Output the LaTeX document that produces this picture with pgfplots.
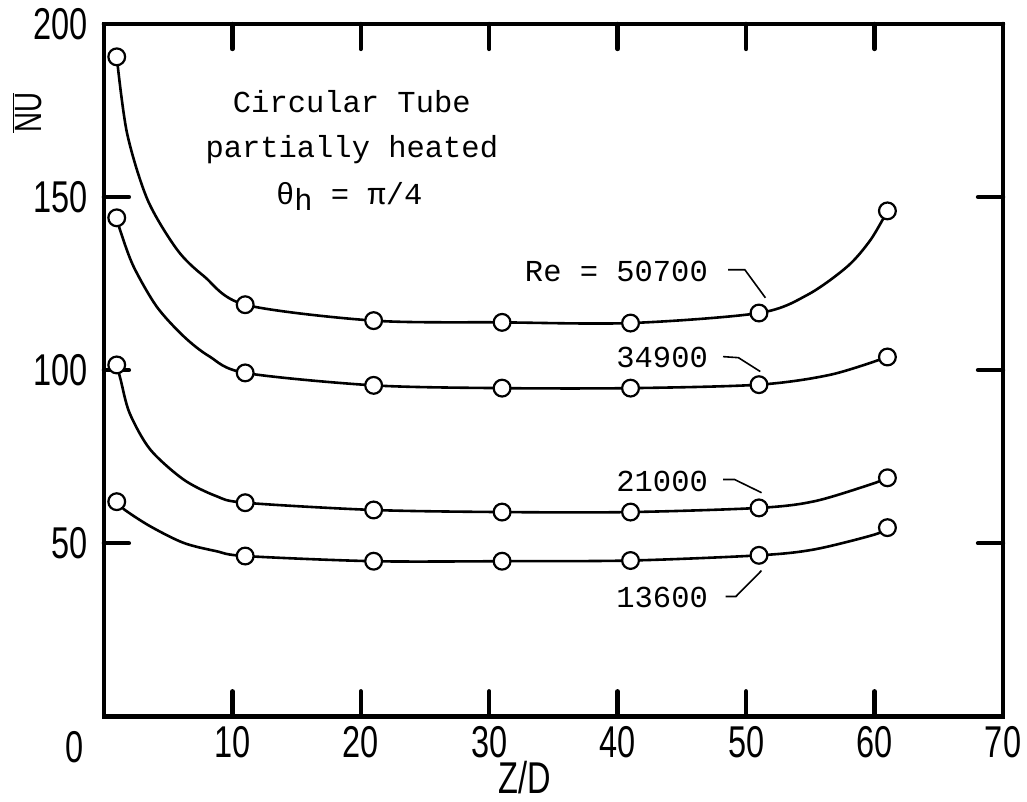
\documentclass[border=0pt]{standalone}
\usepackage{fontspec}
\usepackage{pgfplots}
\pgfplotsset{compat=1.18}
\newfontfamily\tickfont{Liberation Sans}[FakeStretch=0.73]
\newfontfamily\twfont{Liberation Mono}
\begin{document}
\begin{tikzpicture}
\useasboundingbox (-52pt,-42.5pt) rectangle (462pt,358.5pt);
\begin{axis}[
  scale only axis, width=450pt, height=346.5pt,
  at={(0,0)}, anchor=south west,
  xmin=0, xmax=70, ymin=0, ymax=200,
  axis line style={line width=2.4pt},
  xtick={10,20,...,70}, ytick={50,100,150,200},
  tick align=inside, tick pos=both,
  major tick length=12.5pt,
  every tick/.style={line width=2.2pt, line cap=round, black},
  /pgf/number format/assume math mode=true,
  tick label style={font=\tickfont\fontsize{22.3}{24}\selectfont},
  xticklabel style={inner sep=0pt, yshift=-5pt, anchor=north},
  yticklabel style={inner sep=0pt, xshift=-8pt, anchor=east},
  clip=false,
]
% Re = 50700
\addplot[black, line width=1.3pt, smooth, tension=0.5] coordinates {
 (1,190.5) (1.8,168.5) (3.4,149.2) (5.7,134.8) (7.8,127.1) (11,118.9)
 (21,114.3) (31,113.8) (41,113.6) (51,116.5) (54.8,121.8) (57.9,130) (59.7,137.7) (61,146)};
\addplot[only marks, mark=*, mark size=4.2pt, mark options={fill=white, draw=black, line width=1.1pt}] coordinates {
 (1,190.5) (11,118.9) (21,114.3) (31,113.8) (41,113.6) (51,116.5) (61,146)};
% Re = 34900
\addplot[black, line width=1.3pt, smooth, tension=0.5] coordinates {
 (1,144) (1.3,140) (2.3,130) (4.1,118.4) (6.2,109.8) (8.2,104) (11,99.2)
 (21,95.6) (31,94.8) (41,94.8) (51,95.8) (56.6,98.7) (61,103.8)};
\addplot[only marks, mark=*, mark size=4.2pt, mark options={fill=white, draw=black, line width=1.1pt}] coordinates {
 (1,144) (11,99.2) (21,95.6) (31,94.8) (41,94.8) (51,95.8) (61,103.8)};
% Re = 21000
\addplot[black, line width=1.3pt, smooth, tension=0.5] coordinates {
 (1,101.5) (1.3,97.3) (2,87.6) (3.6,77.1) (6.2,68.4) (8.75,63.6) (11,61.7)
 (21,59.6) (31,59.0) (41,59.0) (51,60.2) (55.3,62.1) (59.7,67) (61,68.9)};
\addplot[only marks, mark=*, mark size=4.2pt, mark options={fill=white, draw=black, line width=1.1pt}] coordinates {
 (1,101.5) (11,61.7) (21,59.6) (31,59.0) (41,59.0) (51,60.2) (61,68.9)};
% Re = 13600
\addplot[black, line width=1.3pt, smooth, tension=0.5] coordinates {
 (1,62) (1.6,59.7) (3.6,54.9) (6.2,50.1) (8.75,47.7) (11,46.3)
 (21,44.8) (31,44.8) (41,45.0) (51,46.5) (55.3,48.2) (60,52.5) (61,54.5)};
\addplot[only marks, mark=*, mark size=4.2pt, mark options={fill=white, draw=black, line width=1.1pt}] coordinates {
 (1,62) (11,46.3) (21,44.8) (31,44.8) (41,45.0) (51,46.5) (61,54.5)};

% annotations
\node[font=\twfont\fontsize{15.25}{17}\selectfont] at (axis cs:19.3,177.5) {Circular Tube};
\node[font=\twfont\fontsize{15.25}{17}\selectfont] at (axis cs:19.3,163.6) {partially heated};
\node[font=\twfont\fontsize{15.25}{17}\selectfont] at (axis cs:19.1,150.1) {θ\raisebox{-0.4ex}{h} = π/4};

\node[font=\twfont\fontsize{15.25}{17}\selectfont, anchor=east, inner sep=0pt] at (axis cs:47.05,128.4) {Re = 50700};
\node[font=\twfont\fontsize{15.25}{17}\selectfont, anchor=east, inner sep=0pt] at (axis cs:47.05,103.6) {34900};
\node[font=\twfont\fontsize{15.25}{17}\selectfont, anchor=east, inner sep=0pt] at (axis cs:47.05,67.8) {21000};
\node[font=\twfont\fontsize{15.25}{17}\selectfont, anchor=east, inner sep=0pt] at (axis cs:47.05,34.3) {13600};

\draw[line width=0.8pt] (axis cs:48.6,129) -- (axis cs:49.9,129) -- (axis cs:51.5,120.9);
\draw[line width=0.8pt] (axis cs:48.2,103.9) -- (axis cs:49.4,103.6) -- (axis cs:51.1,99.6);
\draw[line width=0.8pt] (axis cs:48.2,68.4) -- (axis cs:49.1,68.4) -- (axis cs:51.2,64.6);
\draw[line width=0.8pt] (axis cs:48.4,34.6) -- (axis cs:49.2,34.6) -- (axis cs:51.2,42.1);

% axis labels
\node[font=\tickfont\fontsize{22.3}{24}\selectfont] at (rel axis cs:0,0) [xshift=-14.5pt, yshift=-15.5pt] {0};
\node[font=\tickfont\fontsize{22.3}{24}\selectfont, inner sep=0pt, yshift=-30.5pt] at (rel axis cs:0.468,0) {Z/D};
\node[xshift=-38.5pt, rotate=90, font=\tickfont\fontsize{19}{20}\selectfont] at (rel axis cs:0,0.8716) {$\overline{\mbox{NU}}$};
\end{axis}
\end{tikzpicture}
\end{document}
